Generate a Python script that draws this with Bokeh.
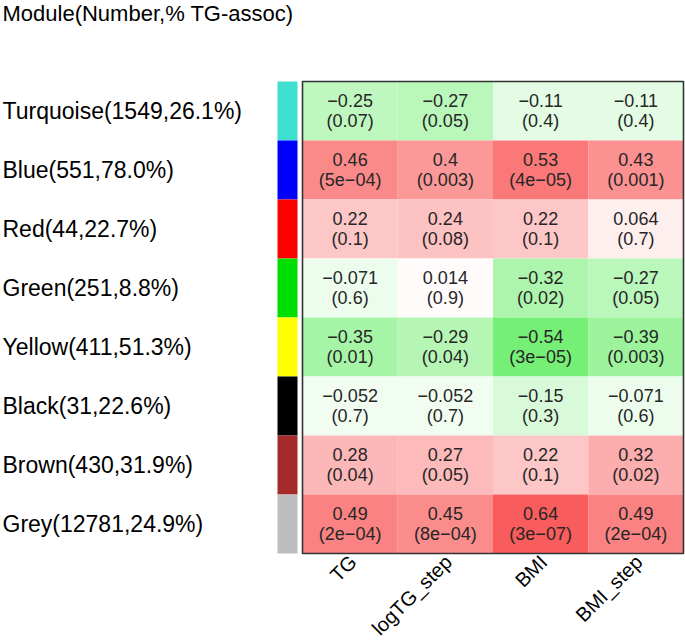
import math
from bokeh.plotting import figure
from bokeh.models import ColumnDataSource, Range1d
from bokeh.core.properties import value
from bokeh.embed import file_html
from bokeh.resources import INLINE

# ---- data ----
traits = ["TG", "logTG_step", "BMI", "BMI_step"]
modules = ["Turquoise(1549,26.1%)", "Blue(551,78.0%)", "Red(44,22.7%)", "Green(251,8.8%)",
           "Yellow(411,51.3%)", "Black(31,22.6%)", "Brown(430,31.9%)", "Grey(12781,24.9%)"]
module_colors = ["#40E0D0", "#0000FF", "#FF0000", "#00DD00", "#FFFF00", "#000000", "#A52A2A", "#BEBEBE"]
corr = [
    [-0.25, -0.27, -0.11, -0.11],
    [0.46, 0.4, 0.53, 0.43],
    [0.22, 0.24, 0.22, 0.064],
    [-0.071, 0.014, -0.32, -0.27],
    [-0.35, -0.29, -0.54, -0.39],
    [-0.052, -0.052, -0.15, -0.071],
    [0.28, 0.27, 0.22, 0.32],
    [0.49, 0.45, 0.64, 0.49],
]
pvals = [
    ["0.07", "0.05", "0.4", "0.4"],
    ["5e\u221204", "0.003", "4e\u221205", "0.001"],
    ["0.1", "0.08", "0.1", "0.7"],
    ["0.6", "0.9", "0.02", "0.05"],
    ["0.01", "0.04", "3e\u221205", "0.003"],
    ["0.7", "0.7", "0.3", "0.6"],
    ["0.04", "0.05", "0.1", "0.02"],
    ["2e\u221204", "8e\u221204", "3e\u221207", "2e\u221204"],
]
title_text = "Module(Number,% TG-assoc)"

# ---- layout constants (pixels) ----
FIG_W, FIG_H = 685, 643
COL_PX = 95.25
ROW_PX = 59.0
BOX_LEFT_PX = 302.0
BOX_TOP_PX = 81.0
x_start = -0.5 - BOX_LEFT_PX / COL_PX
x_end = x_start + FIG_W / COL_PX
y_end = -0.5 - BOX_TOP_PX / ROW_PX          # top of figure
y_start = y_end + FIG_H / ROW_PX            # bottom of figure


def cell_color(v):
    if v >= 0:
        r, g, b = 255 - 10 * v, 255 * (1 - v), 255 * (1 - v)
    else:
        a = -v
        r, g, b = 255 * (1 - a), 255 - 30 * a, 255 * (1 - a)
    return "#%02x%02x%02x" % (int(round(r)), int(round(g)), int(round(b)))


def fmt(v):
    return ("%g" % v).replace("-", "\u2212")


xs, ys, cols, vtxt, ptxt = [], [], [], [], []
for i in range(len(modules)):
    for j in range(len(traits)):
        xs.append(j)
        ys.append(i)
        cols.append(cell_color(corr[i][j]))
        vtxt.append(fmt(corr[i][j]))
        ptxt.append("(" + pvals[i][j] + ")")
cells = ColumnDataSource(dict(x=xs, y=ys, c=cols, v=vtxt, p=ptxt))

p = figure(width=FIG_W, height=FIG_H, output_backend="svg", toolbar_location=None,
           x_range=Range1d(x_start, x_end), y_range=Range1d(y_start, y_end),
           min_border=0, min_border_left=0, min_border_right=0, min_border_top=0,
           min_border_bottom=0)
p.outline_line_color = None
p.grid.visible = False
p.axis.visible = False
p.background_fill_color = "white"
p.border_fill_color = "white"

FONT = value("Liberation Sans")

p.rect(x="x", y="y", width=1, height=1, fill_color="c", line_color=None, source=cells)
p.text(x="x", y="y", text="v", source=cells, y_offset=-11, text_align="center",
       text_baseline="middle", text_font=FONT, text_font_size="18px", text_color="#262626")
p.text(x="x", y="y", text="p", source=cells, y_offset=10, text_align="center",
       text_baseline="middle", text_font=FONT, text_font_size="18px", text_color="#262626")

n_r, n_c = len(modules), len(traits)
# box around the heatmap
p.rect(x=[(n_c - 1) / 2], y=[(n_r - 1) / 2], width=n_c, height=n_r, fill_color=None,
       line_color="#333333", line_width=1.6)

# module colour strip
strip_w = 20 / COL_PX
strip_x = -0.5 - (5 / COL_PX) - strip_w / 2
p.rect(x=[strip_x] * n_r, y=list(range(n_r)), width=strip_w, height=1,
       fill_color=module_colors, line_color=None)

# module labels
p.text(x=[x_start] * n_r, y=list(range(n_r)), text=modules, text_align="left",
       text_baseline="middle", x_offset=2, text_font=FONT, text_font_size="23px",
       text_color="black")

# header
p.text(x=[x_start], y=[y_end], text=[title_text], text_align="left", text_baseline="top",
       x_offset=2, text_font=FONT, text_font_size="22px", text_color="black")

# trait labels (rotated, ending just below each column)
p.text(x=list(range(n_c)), y=[n_r - 0.5] * n_c, text=traits, angle=math.pi / 4,
       text_align="right", text_baseline="middle", x_offset=3, y_offset=5,
       text_font=FONT, text_font_size="20px", text_color="black")

open("out.html", "w").write(file_html(p, INLINE))
